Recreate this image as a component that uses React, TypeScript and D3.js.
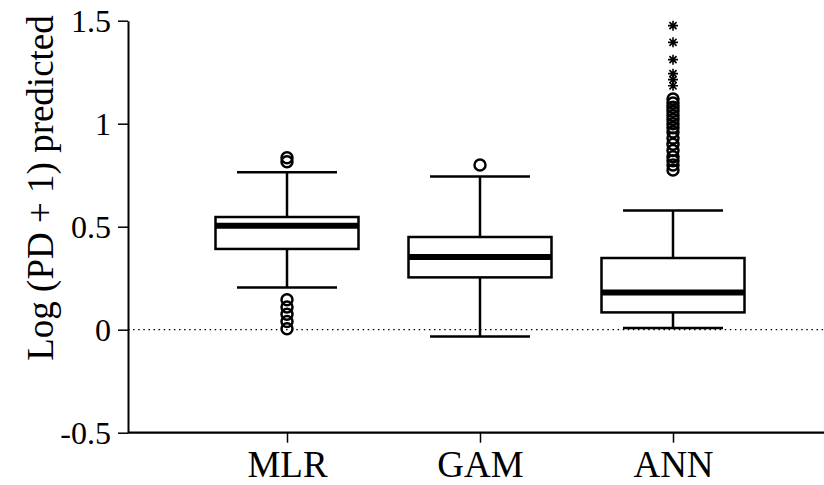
import React, { useEffect, useRef } from "react";
import * as d3 from "d3";

const categories = ["MLR", "GAM", "ANN"];
const q1 = [0.392, 0.254, 0.084];
const median = [0.505, 0.353, 0.18];
const q3 = [0.547, 0.45, 0.348];
const whiskerLow = [0.205, -0.033, 0.008];
const whiskerHigh = [0.764, 0.744, 0.579];
const circleOutliers = [
  [0.835, 0.815, 0.145, 0.11, 0.075, 0.04, 0.005],
  [0.8],
  [1.12, 1.1, 1.08, 1.06, 1.04, 1.02, 1.0, 0.98, 0.96, 0.93, 0.9, 0.87, 0.84, 0.82, 0.8, 0.775],
];
const starOutliers = [[], [], [1.476, 1.395, 1.311, 1.243, 1.214, 1.184]];
const yTicks = [-0.5, 0, 0.5, 1, 1.5];
const yLabel = "Log (PD + 1) predicted";

const W = 824;
const H = 485;

export default function App() {
  const ref = useRef<SVGSVGElement>(null);
  useEffect(() => {
    const svg = d3.select(ref.current);
    svg.selectAll("*").remove();
    const font = "'Liberation Serif', 'Times New Roman', serif";
    const y = d3.scaleLinear().domain([-0.5, 1.5]).range([432.7, 20.7]);
    const x = d3.scalePoint().domain(categories).range([287, 673]);
    const axisX0 = 128;
    const boxW = 143;
    const capW = 100;

    // zero dotted line
    svg.append("line")
      .attr("x1", axisX0).attr("x2", W)
      .attr("y1", y(0)).attr("y2", y(0))
      .attr("stroke", "#000").attr("stroke-width", 1.3)
      .attr("stroke-dasharray", "1.5 3.6");

    // y axis
    const yAxis = d3.axisLeft(y).tickValues(yTicks).tickSize(10).tickSizeOuter(0)
      .tickFormat((d) => String(d));
    const gy = svg.append("g").attr("transform", `translate(${axisX0},0)`).call(yAxis);
    gy.select(".domain").attr("stroke-width", 2);
    gy.selectAll(".tick line").attr("stroke-width", 1.5);
    gy.selectAll(".tick text")
      .attr("font-family", font).attr("font-size", 32).attr("fill", "#000")
      .attr("x", -17).attr("dy", "0.34em");

    // x axis
    const xAxis = d3.axisBottom(x).tickSize(10).tickSizeOuter(0);
    const gx = svg.append("g").attr("transform", `translate(0,${y(-0.5)})`).call(xAxis);
    gx.select(".domain").attr("d", `M${axisX0},0H${W}`).attr("stroke-width", 2.2);
    gx.selectAll(".tick line").attr("stroke-width", 1.5);
    gx.selectAll(".tick text")
      .attr("font-family", font).attr("font-size", 37).attr("fill", "#000")
      .attr("y", 44).attr("dy", 0);

    // y label
    svg.append("text")
      .attr("transform", `translate(53,188) rotate(-90)`)
      .attr("text-anchor", "middle")
      .attr("font-family", font).attr("font-size", 37)
      .text(yLabel);

    const g = svg.append("g").attr("stroke", "#000").attr("fill", "none");
    const arm = 5;
    const starPath = d3.path();
    for (let k = 0; k < 4; k++) {
      const a = (k * Math.PI) / 4;
      starPath.moveTo(-arm * Math.cos(a), -arm * Math.sin(a));
      starPath.lineTo(arm * Math.cos(a), arm * Math.sin(a));
    }
    categories.forEach((c, i) => {
      const cx = x(c) as number;
      // whiskers
      g.append("line").attr("x1", cx).attr("x2", cx).attr("y1", y(q3[i])).attr("y2", y(whiskerHigh[i])).attr("stroke-width", 2.5);
      g.append("line").attr("x1", cx).attr("x2", cx).attr("y1", y(q1[i])).attr("y2", y(whiskerLow[i])).attr("stroke-width", 2.5);
      g.append("line").attr("x1", cx - capW / 2).attr("x2", cx + capW / 2).attr("y1", y(whiskerHigh[i])).attr("y2", y(whiskerHigh[i])).attr("stroke-width", 2.5);
      g.append("line").attr("x1", cx - capW / 2).attr("x2", cx + capW / 2).attr("y1", y(whiskerLow[i])).attr("y2", y(whiskerLow[i])).attr("stroke-width", 2.5);
      // box
      g.append("rect")
        .attr("x", cx - boxW / 2).attr("width", boxW)
        .attr("y", y(q3[i])).attr("height", y(q1[i]) - y(q3[i]))
        .attr("fill", "#fff").attr("stroke-width", 2.5);
      // median
      g.append("line").attr("x1", cx - boxW / 2).attr("x2", cx + boxW / 2).attr("y1", y(median[i])).attr("y2", y(median[i])).attr("stroke-width", 6);
      // circle outliers
      circleOutliers[i].forEach((v) => {
        g.append("circle").attr("cx", cx).attr("cy", y(v)).attr("r", 5.5).attr("stroke-width", 2.5).attr("fill", "none");
      });
      // star outliers
      starOutliers[i].forEach((v) => {
        g.append("path").attr("d", starPath.toString())
          .attr("transform", `translate(${cx},${y(v)})`)
          .attr("stroke-width", 1.6);
      });
    });
  }, []);
  return (
    <svg
      ref={ref}
      width={W}
      height={H}
      style={{ position: "absolute", left: 0, top: 0, background: "#fff" }}
    />
  );
}
